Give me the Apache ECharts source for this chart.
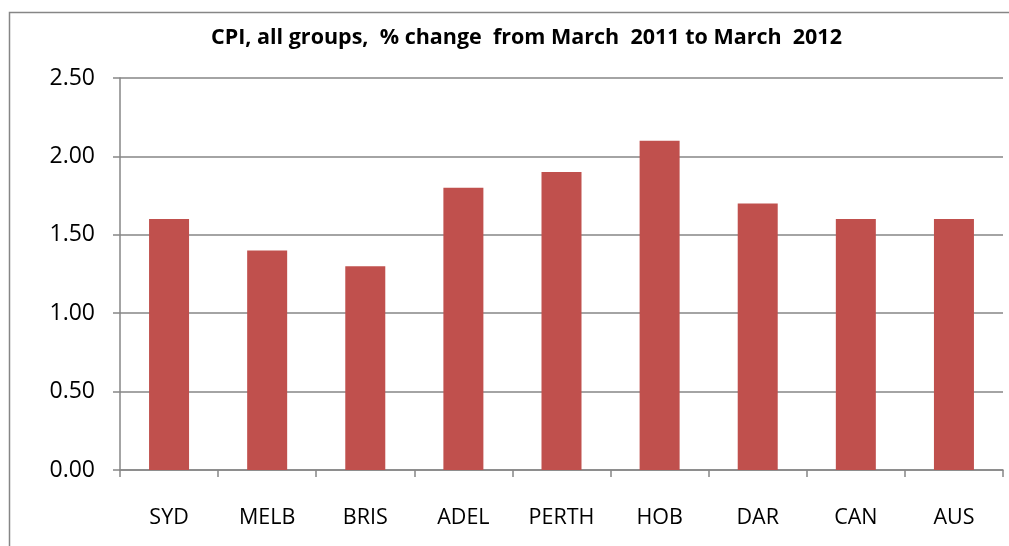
<!DOCTYPE html>
<html>
<head>
<meta charset="utf-8">
<script src="https://cdn.jsdelivr.net/npm/echarts@6/dist/echarts.min.js"></script>
<style>
html,body{margin:0;padding:0;background:#fff;}
#chart{width:1009px;height:546px;}
</style>
</head>
<body>
<div id="chart"></div>
<script>
// 数据
var cities = ['SYD','MELB','BRIS','ADEL','PERTH','HOB','DAR','CAN','AUS'];
var cpiChange = [1.6,1.4,1.3,1.8,1.9,2.1,1.7,1.6,1.6];
var titleText = 'CPI, all groups,  % change  from March  2011 to March  2012';

function drawChart(){
    var myChart = echarts.init(document.getElementById('chart'));
    var option = {
        animation:false,
        title:{
            text:titleText,
            left:206,
            top:22,
            textStyle:{
                fontFamily:'Open Sans',
                fontSize:21.5,
                fontWeight:'bold',
                color:'#000'
            }
        },
        graphic:[
            {
                type:'rect',
                shape:{x:9.5,y:12.5,width:1100,height:600},
                style:{fill:'none',stroke:'#868686',lineWidth:1.5}
            }
        ],
        grid:{
            left:120,
            right:6,
            top:78,
            bottom:76
        },
        xAxis:[
            {
                type:'category',
                data:cities,
                axisLine:{lineStyle:{color:'#868686',width:1.5}},
                axisTick:{show:true,length:7,lineStyle:{color:'#868686',width:1.5}},
                axisLabel:{
                    color:'#000',
                    fontFamily:'Open Sans',
                    fontSize:21.5,
                    margin:37
                }
            }
        ],
        yAxis:[
            {
                type:'value',
                min:0,
                max:2.5,
                interval:0.5,
                axisLine:{show:true,lineStyle:{color:'#868686',width:1.5}},
                axisTick:{show:true,length:7,lineStyle:{color:'#868686',width:1.5}},
                splitLine:{lineStyle:{color:'#868686',width:1.5}},
                axisLabel:{
                    color:'#000',
                    fontFamily:'Open Sans',
                    fontSize:23,
                    margin:25,
                    formatter:function(v){ return v.toFixed(2); }
                }
            }
        ],
        series:[
            {
                name:'CPI',
                type:'bar',
                barWidth:40,
                data:cpiChange,
                itemStyle:{color:'#C0504D'}
            }
        ]
    };
    myChart.setOption(option);
}
drawChart();
</script>
</body>
</html>
